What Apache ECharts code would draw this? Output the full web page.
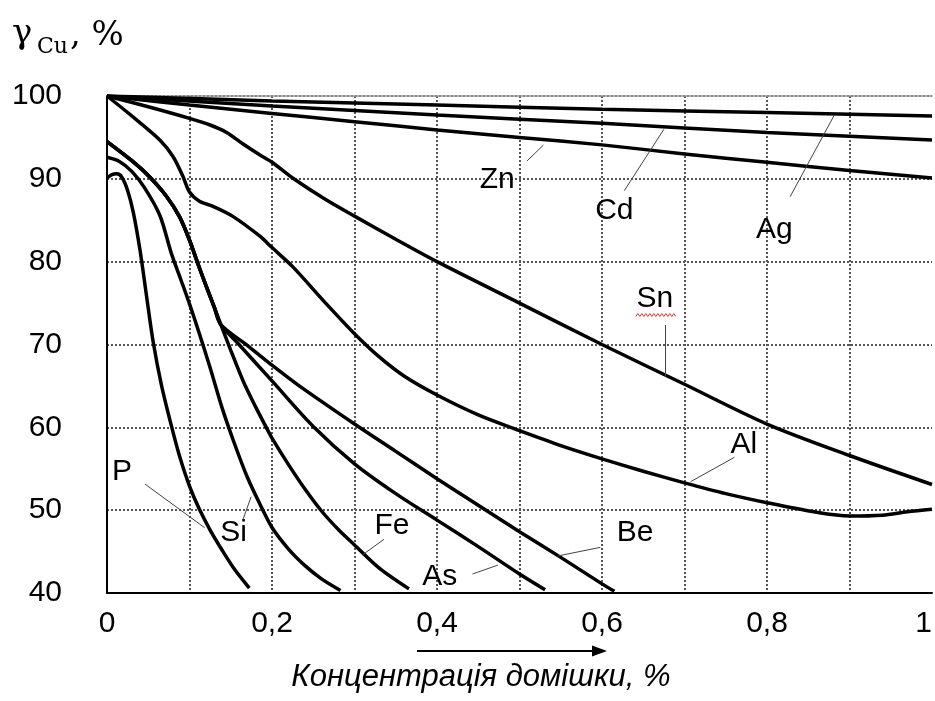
<!DOCTYPE html>
<html>
<head>
<meta charset="utf-8">
<script src="https://cdn.jsdelivr.net/npm/echarts/dist/echarts.min.js"></script>
<style>
  html, body { margin: 0; padding: 0; background: #fff; }
  #chart { width: 935px; height: 701px; }
</style>
</head>
<body>
<div id="chart"></div>
<script>
// Tick labels
const xTickLabels = ['0', '0,2', '0,4', '0,6', '0,8', '1'];
const yTickLabels = ['40', '50', '60', '70', '80', '90', '100'];

// Copper conductivity vs impurity concentration, [concentration %, gamma %]
const Ag = [[0, 100], [0.2, 99.4], [0.4, 98.9], [0.6, 98.4], [0.8, 98.0], [1, 97.6]];
const Cd = [[0, 100], [0.2, 98.8], [0.4, 97.7], [0.6, 96.7], [0.8, 95.6], [1, 94.7]];
const Zn = [[0, 100], [0.1, 98.9], [0.2, 97.9], [0.3, 96.9], [0.4, 95.9], [0.5, 95.0],
            [0.6, 94.1], [0.7, 93.0], [0.8, 92.0], [0.9, 91.0], [1, 90.1]];
const Sn = [[0, 100], [0.05, 98.7], [0.1, 97.3], [0.125, 96.5], [0.145, 95.6], [0.165, 94.2],
            [0.185, 92.9], [0.2, 92.0], [0.225, 90.1], [0.265, 87.5], [0.3, 85.5], [0.35, 82.7],
            [0.4, 80.0], [0.5, 75.0], [0.6, 70.0], [0.7, 65.2], [0.8, 60.4], [0.9, 56.6], [1, 53.1]];
const Al = [[0, 100], [0.03, 97.6], [0.064, 94.7], [0.08, 92.7], [0.092, 90.3], [0.1, 88.4],
            [0.112, 87.3], [0.128, 86.7], [0.152, 85.5], [0.185, 83.1], [0.2, 81.7], [0.225, 79.4],
            [0.265, 75.0], [0.3, 71.3], [0.33, 68.5], [0.36, 66.2], [0.4, 63.9], [0.45, 61.5],
            [0.5, 59.6], [0.55, 57.8], [0.6, 56.2], [0.65, 54.7], [0.7, 53.3], [0.75, 52.0],
            [0.8, 50.9], [0.857, 49.8], [0.9, 49.3], [0.94, 49.4], [0.97, 49.8], [1, 50.1]];
// common start of the Be, As and Fe curves
const trunk = [[0, 94.5], [0.03, 92.2], [0.05, 90.4], [0.072, 87.9], [0.088, 85.4], [0.1, 82.6],
               [0.11, 79.8], [0.12, 77.1], [0.13, 74.5], [0.138, 72.4]];
const BeTail = [[0.17, 69.9], [0.2, 67.5], [0.233, 65.0], [0.3, 60.4], [0.35, 57.1], [0.4, 53.8],
                [0.45, 50.6], [0.5, 47.4], [0.55, 44.3], [0.6, 41.1], [0.615, 40.2]];
const AsTail = [[0.16, 70.0], [0.2, 65.6], [0.25, 60.1], [0.3, 55.6], [0.35, 52.0], [0.4, 48.8],
                [0.45, 45.6], [0.5, 42.3], [0.531, 40.4]];
const FeTail = [[0.15, 69.3], [0.165, 65.6], [0.18, 62.5], [0.193, 60.0], [0.2, 58.7], [0.22, 55.5],
                [0.241, 52.4], [0.26, 49.9], [0.281, 47.6], [0.3, 45.8], [0.33, 43.0], [0.366, 40.5]];
const Si = [[0, 92.6], [0.015, 92.1], [0.03, 90.9], [0.045, 89.0], [0.064, 85.6], [0.078, 81.0],
            [0.09, 77.7], [0.1, 74.9], [0.112, 71.3], [0.125, 67.2], [0.14, 62.2], [0.155, 57.9],
            [0.17, 54.0], [0.185, 50.8], [0.2, 47.9], [0.22, 45.3], [0.24, 43.3], [0.26, 41.7], [0.283, 40.3]];
const P = [[0, 90.1], [0.006, 90.5], [0.012, 90.6], [0.018, 90.2], [0.025, 88.6], [0.032, 85.9],
           [0.04, 81.4], [0.048, 75.8], [0.056, 70.3], [0.066, 65.1], [0.078, 60.2], [0.088, 56.5],
           [0.1, 52.9], [0.112, 50.1], [0.125, 47.6], [0.14, 45.1], [0.155, 42.8], [0.1725, 40.6]];

const curves = [
  ['Ag', Ag], ['Cd', Cd], ['Zn', Zn], ['Sn', Sn], ['Al', Al],
  ['Be', trunk.concat(BeTail)], ['As', trunk.concat(AsTail)], ['Fe', trunk.concat(FeTail)],
  ['Si', Si], ['P', P]
];

// Curve captions with leader lines, in axis units
const labelNames = ['Zn', 'Cd', 'Ag', 'Sn', 'Al', 'Be', 'As', 'Fe', 'Si', 'P'];
const labelAt = [[0.473, 89.86], [0.615, 86.1], [0.809, 83.8], [0.664, 75.49], [0.772, 57.87],
                 [0.64, 47.24], [0.4034, 41.93], [0.3454, 48.09], [0.1534, 47.24], [0.0181, 54.61]];
const leaderFrom = [[0.509, 92.15], [0.627, 88.57], [0.828, 87.84], [0.677, 72.35], [0.7605, 56.38],
                    [0.598, 45.51], [0.443, 42.29], [0.3357, 46.48], [0.1646, 48.81], [0.0459, 53.16]];
const leaderTo = [[0.529, 94.08], [0.675, 95.98], [0.881, 97.59], [0.677, 66.11], [0.7074, 53.44],
                  [0.546, 44.46], [0.4738, 43.37], [0.3095, 44.59], [0.1747, 51.62], [0.1184, 47.88]];

const FONT = '"Liberation Sans", Arial, sans-serif';
const gridDots = { color: '#555', width: 2, type: [2, 2] };

const option = {
  animation: false,
  backgroundColor: '#fff',
  grid: { left: 107, right: 0, top: 96, bottom: 108 },
  xAxis: [{
    type: 'value', min: 0, max: 1, interval: 0.1,
    axisLine: { lineStyle: { color: '#000', width: 2 } },
    axisTick: { show: false },
    axisLabel: {
      margin: 16, color: '#000', fontSize: 30, fontFamily: FONT, alignMaxLabel: 'right',
      formatter: v => { const i = Math.round(v * 10); return i % 2 === 0 ? xTickLabels[i / 2] : ''; }
    },
    splitLine: { show: true, showMaxLine: false, lineStyle: gridDots }
  }, {
    type: 'value', min: 0, max: 1, position: 'top',
    axisLine: { show: true, lineStyle: { color: '#999', width: 1.5 } },
    axisTick: { show: false }, axisLabel: { show: false }, splitLine: { show: false }
  }],
  yAxis: {
    type: 'value', min: 40, max: 100, interval: 10,
    axisLine: { show: true, lineStyle: { color: '#000', width: 2 } },
    axisTick: { show: false },
    axisLabel: {
      margin: 45, color: '#000', fontSize: 30, fontFamily: FONT,
      formatter: v => yTickLabels[Math.round((v - 40) / 10)]
    },
    splitLine: { show: true, lineStyle: gridDots }
  },
  series: curves.map(([name, data]) => ({
    name, type: 'line', data, xAxisIndex: 0, smooth: 0.3, showSymbol: false,
    lineStyle: { color: '#000', width: 3.5 }, z: 3
  }))
};

const chart = echarts.init(document.getElementById('chart'));
chart.setOption(option);

const toPx = p => chart.convertToPixel({ xAxisIndex: 0, yAxisIndex: 0 }, p);
const graphics = [];
labelNames.forEach((name, i) => {
  const c = toPx(labelAt[i]);
  graphics.push({ type: 'text', x: c[0], y: c[1], z: 10,
    style: { text: name, font: '30px ' + FONT, fill: '#000', align: 'center', verticalAlign: 'middle' } });
  const a = toPx(leaderFrom[i]), b = toPx(leaderTo[i]);
  graphics.push({ type: 'line', z: 10, shape: { x1: a[0], y1: a[1], x2: b[0], y2: b[1] },
    style: { stroke: '#444', lineWidth: 1 } });
  if (name === 'Sn') {
    // wavy spell-check underline under the Sn caption
    const pts = [];
    for (let k = 0; k <= 20; k++) pts.push([c[0] - 19 + k * 2, c[1] + 16 + (k % 2 ? -1.5 : 1.5)]);
    graphics.push({ type: 'polyline', z: 10, shape: { points: pts }, style: { stroke: '#e33', lineWidth: 1, fill: null } });
  }
});

// y-axis caption: gamma with subscript Cu
const SERIF = '"DejaVu Serif", "Liberation Serif", serif';
graphics.push({ type: 'text', x: 12, y: 51, z: 10, style: { text: 'γ', font: '34px ' + SERIF, fill: '#000', verticalAlign: 'bottom' } });
graphics.push({ type: 'text', x: 37, y: 58, z: 10, style: { text: 'Cu', font: '22px ' + SERIF, fill: '#000', verticalAlign: 'bottom' } });
graphics.push({ type: 'text', x: 70, y: 53, z: 10, style: { text: ', %', font: '34px ' + SERIF, fill: '#000', verticalAlign: 'bottom' } });

// x-axis caption with arrow
graphics.push({ type: 'line', z: 10, shape: { x1: 417, y1: 651, x2: 595, y2: 651 }, style: { stroke: '#000', lineWidth: 2 } });
graphics.push({ type: 'polygon', z: 10, shape: { points: [[592, 645.5], [607, 651], [592, 656.5]] }, style: { fill: '#000' } });
graphics.push({ type: 'text', x: 481, y: 677, z: 10,
  style: { text: 'Концентрація домішки, %', font: 'italic 31px ' + FONT, fill: '#000', align: 'center', verticalAlign: 'middle' } });

chart.setOption({ graphic: graphics });
</script>
</body>
</html>
